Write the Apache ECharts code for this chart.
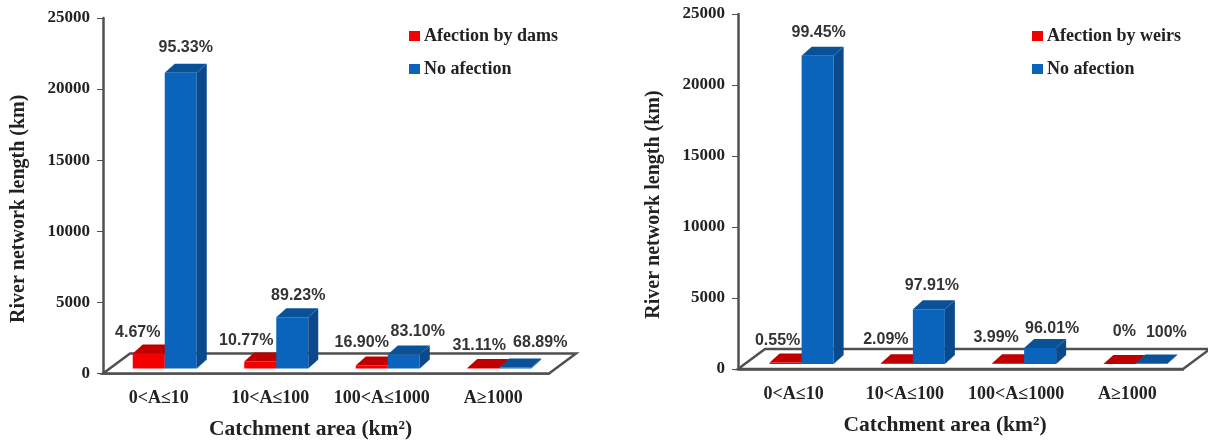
<!DOCTYPE html>
<html>
<head>
<meta charset="utf-8">
<style>
  html, body { margin: 0; padding: 0; background: #fff; }
  #chart { width: 1208px; height: 441px; }
</style>
<script src="https://cdn.jsdelivr.net/npm/echarts@6/dist/echarts.min.js"></script>
</head>
<body>
<div id="chart"></div>
<script>
var categories = ['0<A≤10', '10<A≤100', '100<A≤1000', 'A≥1000']
var yTicks = [0, 5000, 10000, 15000, 20000, 25000]

// left chart, dams
var damsAffected = [1050, 490, 210, 30]
var damsFree = [20800, 3600, 980, 65]
var damsAffectedPct = ['4.67%', '10.77%', '16.90%', '31.11%']
var damsFreePct = ['95.33%', '89.23%', '83.10%', '68.89%']

// right chart, weirs
var weirsAffected = [100, 60, 45, 0]
var weirsFree = [21700, 3850, 1120, 40]
var weirsAffectedPct = ['0.55%', '2.09%', '3.99%', '0%']
var weirsFreePct = ['99.45%', '97.91%', '96.01%', '100%']

var serif = '"Liberation Serif"'
var sans = '"Liberation Sans"'
var axisColor = '#505050'
var textColor = '#222'

var barW = 32
var depthX = 10
var depthY = 9
var lift = 5
var floorX = 27
var floorY = 20

var red = { front: '#f40000', side: '#b00000', top: '#c00000' }
var blue = { front: '#0b64bb', side: '#0a4a8c', top: '#0a5298' }

// the percent labels were placed by hand in the original, so each gets a nudge
var nudgeDamsRed = [[13, -2], [10, -2], [14, -4], [20, -3]]
var nudgeDamsBlue = [[4, -2], [5, 1], [13, 0], [24, -2]]
var nudgeWeirsRed = [[16, -3], [13, -5], [12, -7], [29, -13]]
var nudgeWeirsBlue = [[0, 0], [2, -1], [11, 3], [14, -8]]

// one 3D bar: front face, side and top, all hung off the axis scale
function bar3d(colors, pct, nudge, isRed, seam) {
  return function (params, api) {
    var base = api.coord([api.value(0), 0])
    var top = api.coord([api.value(0), api.value(1)])
    var h = base[1] - top[1]
    var x = base[0] + seam - (isRed ? barW : 0)
    var y1 = base[1] - lift
    var y0 = y1 - h
    var n = nudge[params.dataIndex]
    var kids = []
    if (h > 0) {
      kids.push({ type: 'rect', shape: { x: x, y: y0, width: barW, height: h }, style: { fill: colors.front } })
      kids.push({
        type: 'polygon',
        shape: { points: [[x + barW, y0], [x + barW + depthX, y0 - depthY], [x + barW + depthX, y1 - depthY], [x + barW, y1]] },
        style: { fill: colors.side }
      })
    }
    kids.push({
      type: 'polygon',
      shape: { points: [[x, y0], [x + depthX, y0 - depthY], [x + barW + depthX, y0 - depthY], [x + barW, y0]] },
      style: { fill: colors.top }
    })
    kids.push({
      type: 'text',
      z2: 10,
      style: {
        text: pct[params.dataIndex],
        x: (isRed ? x + barW / 2 - 24 : x + barW / 2 + 1) + n[0],
        y: y0 - depthY - (isRed ? 10 : 14) + n[1],
        align: 'center',
        verticalAlign: 'middle',
        fill: '#333',
        font: 'bold 16px ' + sans
      }
    })
    return { type: 'group', children: kids }
  }
}

// floor of the 3D box, spans the grid
function floor(params) {
  var c = params.coordSys
  var bx = c.x + c.width
  var by = c.y + c.height
  return {
    type: 'group',
    children: [{
      type: 'polygon',
      shape: { points: [[c.x, by], [c.x + floorX, by - floorY], [bx + floorX, by - floorY], [bx, by]] },
      style: { fill: '#fff', stroke: axisColor, lineWidth: 2.5 }
    }]
  }
}

function pairs(vals) {
  return vals.map(function (v, i) { return [i, v] })
}

function barSeries(name, idx, vals, pct, nudge, colors, isRed, seam) {
  return {
    name: name,
    type: 'custom',
    xAxisIndex: idx,
    yAxisIndex: idx,
    z: isRed ? 3 : 4,
    itemStyle: { color: colors.front },
    encode: { x: 0, y: 1 },
    data: pairs(vals),
    renderItem: bar3d(colors, pct, nudge, isRed, seam)
  }
}

function floorSeries(idx) {
  return {
    type: 'custom',
    xAxisIndex: idx,
    yAxisIndex: idx,
    z: 1,
    silent: true,
    data: [[0, 0]],
    renderItem: floor
  }
}

function xAxis(idx) {
  return {
    type: 'category',
    gridIndex: idx,
    data: categories,
    name: 'Catchment area (km²)',
    nameLocation: 'middle',
    nameGap: 45,
    nameTextStyle: { fontFamily: serif, fontWeight: 'bold', fontSize: 21.5, color: textColor, padding: [0, 31, 0, 0] },
    axisLine: { onZero: false, lineStyle: { color: axisColor, width: 2.5 } },
    axisTick: { alignWithLabel: false, length: 6, lineStyle: { color: axisColor, width: 1 } },
    axisLabel: { fontFamily: serif, fontWeight: 'bold', fontSize: 18, color: textColor, margin: 16, interval: 0 }
  }
}

function yAxis(idx) {
  return {
    type: 'value',
    gridIndex: idx,
    min: yTicks[0],
    max: yTicks[yTicks.length - 1],
    interval: yTicks[1] - yTicks[0],
    name: 'River network length (km)',
    nameLocation: 'middle',
    nameGap: 74,
    nameTextStyle: { fontFamily: serif, fontWeight: 'bold', fontSize: 20, color: textColor, padding: [0, 26, 0, 0] },
    axisLine: { show: true, lineStyle: { color: axisColor, width: 2.5 } },
    axisTick: { show: true, length: 6, lineStyle: { color: axisColor, width: 1 } },
    axisLabel: {
      fontFamily: serif,
      fontWeight: 'bold',
      fontSize: 17,
      color: textColor,
      margin: 13,
      formatter: function (v) { return String(v) }
    },
    splitLine: { show: false }
  }
}

function legend(names, left) {
  return {
    data: names,
    left: left,
    top: 22,
    orient: 'vertical',
    icon: 'rect',
    itemWidth: 11,
    itemHeight: 10,
    itemGap: 15,
    selectedMode: false,
    textStyle: { fontFamily: serif, fontWeight: 'bold', fontSize: 18, color: textColor, padding: [0, 0, 0, -1] }
  }
}

var chart = echarts.init(document.getElementById('chart'))
chart.setOption({
  animation: false,
  backgroundColor: '#fff',
  grid: [
    { left: 103, top: 18, width: 446, height: 355.5, outerBoundsMode: 'none' },
    { left: 738, top: 14, width: 445, height: 355, outerBoundsMode: 'none' }
  ],
  xAxis: [xAxis(0), xAxis(1)],
  yAxis: [yAxis(0), yAxis(1)],
  legend: [
    legend(['Afection by dams', 'No afection'], 404),
    legend(['Afection by weirs', 'No afection'], 1027)
  ],
  series: [
    floorSeries(0),
    barSeries('Afection by dams', 0, damsAffected, damsAffectedPct, nudgeDamsRed, red, true, 6),
    barSeries('No afection', 0, damsFree, damsFreePct, nudgeDamsBlue, blue, false, 6),
    floorSeries(1),
    barSeries('Afection by weirs', 1, weirsAffected, weirsAffectedPct, nudgeWeirsRed, red, true, 8),
    barSeries('No afection', 1, weirsFree, weirsFreePct, nudgeWeirsBlue, blue, false, 8)
  ]
})
</script>
</body>
</html>
